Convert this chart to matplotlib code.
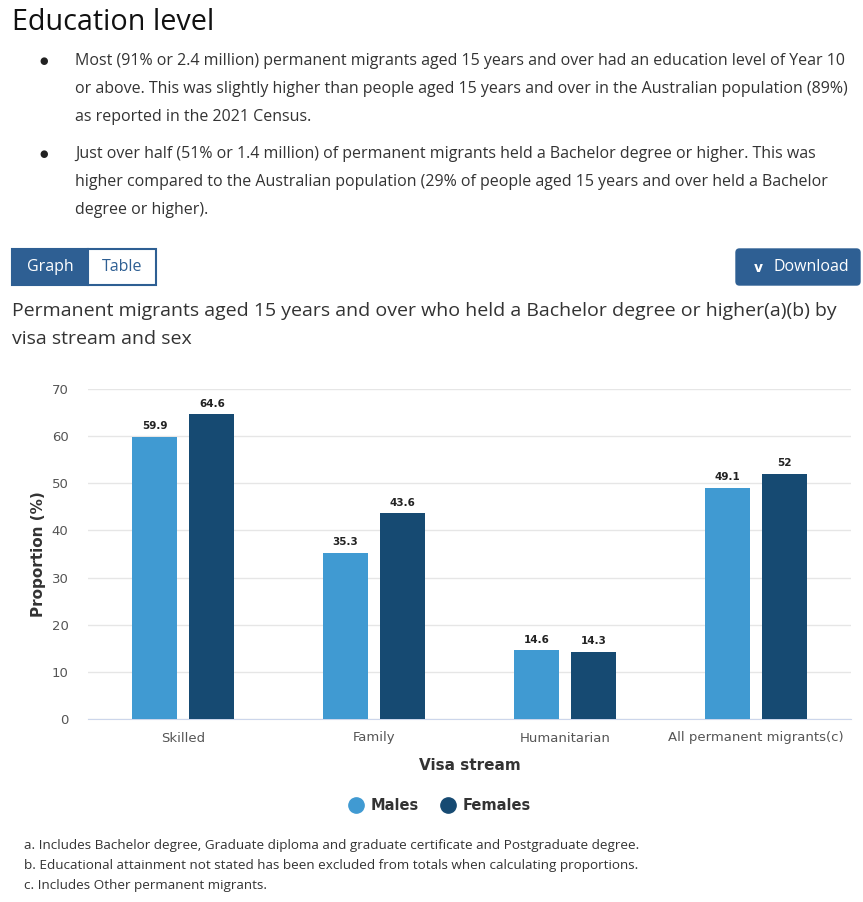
import matplotlib.pyplot as plt
from matplotlib.patches import FancyBboxPatch, Rectangle
from matplotlib.lines import Line2D
import numpy as np

# Chart data
streams = ['Skilled', 'Family', 'Humanitarian', 'All permanent migrants(c)']
males = [59.9, 35.3, 14.6, 49.1]
females = [64.6, 43.6, 14.3, 52]
value_labels_m = ['59.9', '35.3', '14.6', '49.1']
value_labels_f = ['64.6', '43.6', '14.3', '52']
yticks = [0, 10, 20, 30, 40, 50, 60, 70]

bullets = [
    ['Most (91% or 2.4 million) permanent migrants aged 15 years and over had an education level of Year 10',
     'or above. This was slightly higher than people aged 15 years and over in the Australian population (89%)',
     'as reported in the 2021 Census.'],
    ['Just over half (51% or 1.4 million) of permanent migrants held a Bachelor degree or higher. This was',
     'higher compared to the Australian population (29% of people aged 15 years and over held a Bachelor',
     'degree or higher).'],
]
footnotes = [
    'a. Includes Bachelor degree, Graduate diploma and graduate certificate and Postgraduate degree.',
    'b. Educational attainment not stated has been excluded from totals when calculating proportions.',
    'c. Includes Other permanent migrants.',
]

C_MALE = '#409ad2'
C_FEMALE = '#164a72'
C_BTN = '#2e5f93'

W, H = 863, 902
fig = plt.figure(figsize=(W / 100, H / 100), dpi=100)
fig.patch.set_facecolor('white')

def fx(px):
    return px / W

def fy(py):
    return 1 - py / H

page = 'Open Sans'

# Heading and bullet text
fig.text(fx(12), fy(22), 'Education level', fontsize=20.7, family=page,
         color='#111111', va='center')
ys = [[61, 89, 117], [154, 182, 210]]
for lines, yy in zip(bullets, ys):
    fig.text(fx(44), fy(yy[0]), '\u25cf', fontsize=7, family='DejaVu Sans', color='#222222',
             ha='center', va='center')
    for line, y in zip(lines, yy):
        fig.text(fx(75), fy(y), line, fontsize=11.5, family=page, color='#333333', va='center')

# Graph / Table toggle buttons
fig.patches.append(Rectangle((fx(12), fy(285)), fx(76), 36 / H, transform=fig.transFigure,
                             facecolor=C_BTN, edgecolor=C_BTN, lw=1.5))
fig.patches.append(Rectangle((fx(88), fy(285)), fx(68), 36 / H, transform=fig.transFigure,
                             facecolor='white', edgecolor=C_BTN, lw=1.5))
fig.text(fx(50), fy(267), 'Graph', fontsize=11.5, family=page, color='white', ha='center', va='center')
fig.text(fx(122), fy(267), 'Table', fontsize=11.5, family=page, color=C_BTN, ha='center', va='center')

# Download button
fig.patches.append(FancyBboxPatch((fx(736), fy(285)), fx(124), 36 / H, transform=fig.transFigure,
                                  boxstyle='round,pad=0,rounding_size=0.004',
                                  facecolor=C_BTN, edgecolor=C_BTN))
fig.text(fx(758), fy(268), 'v', fontsize=10, family='DejaVu Sans', color='white',
         ha='center', va='center', fontweight='bold')
fig.text(fx(773), fy(267), 'Download', fontsize=11.5, family=page, color='white', va='center')

# Chart title
fig.text(fx(12), fy(311), 'Permanent migrants aged 15 years and over who held a Bachelor degree or higher(a)(b) by',
         fontsize=14, family=page, color='#333333', va='center')
fig.text(fx(12), fy(339), 'visa stream and sex', fontsize=14, family=page, color='#333333', va='center')

# Bar chart
ax = fig.add_axes([fx(88), fy(719), fx(851 - 88), (719 - 389) / H])
x = np.arange(len(streams))
w = 0.236
off = 0.15
bm = ax.bar(x - off, males, w, color=C_MALE, zorder=3)
bf = ax.bar(x + off, females, w, color=C_FEMALE, zorder=3)
for bars, labs in ((bm, value_labels_m), (bf, value_labels_f)):
    for b, t in zip(bars, labs):
        ax.annotate(t, (b.get_x() + b.get_width() / 2, b.get_height()),
                    xytext=(0, 4), textcoords='offset points', ha='center', va='bottom',
                    fontsize=7.5, fontweight='bold', color='#222222')

ax.set_xlim(-0.5, 3.5)
ax.set_ylim(0, 70)
ax.set_yticks(yticks)
ax.set_xticks(x)
ax.set_xticklabels(streams)
ax.grid(axis='y', color='#e6e6e6', lw=1, zorder=0)
for s in ['top', 'right', 'left']:
    ax.spines[s].set_visible(False)
ax.spines['bottom'].set_color('#ccd6eb')
ax.tick_params(axis='both', length=0, labelsize=9.5, colors='#555555')
ax.tick_params(axis='y', pad=14)
ax.tick_params(axis='x', pad=9)
ax.set_ylabel('Proportion (%)', fontsize=11, fontweight='bold', color='#333333', labelpad=4)
ax.set_xlabel('Visa stream', fontsize=11, fontweight='bold', color='#333333', labelpad=10)

# Legend
handles = [Line2D([], [], marker='o', ls='', markersize=11, color=C_MALE),
           Line2D([], [], marker='o', ls='', markersize=11, color=C_FEMALE)]
fig.legend(handles, ['Males', 'Females'], loc='center', bbox_to_anchor=(fx(436), fy(806)),
           ncol=2, frameon=False, prop={'size': 10.5, 'weight': 'bold'},
           handletextpad=0.0, columnspacing=1.0, labelcolor='#333333')

# Footnotes
for t, y in zip(footnotes, [845, 865, 885]):
    fig.text(fx(24), fy(y), t, fontsize=9.7, family=page, color='#333333', va='center')

fig.savefig('out.png', dpi=100)
